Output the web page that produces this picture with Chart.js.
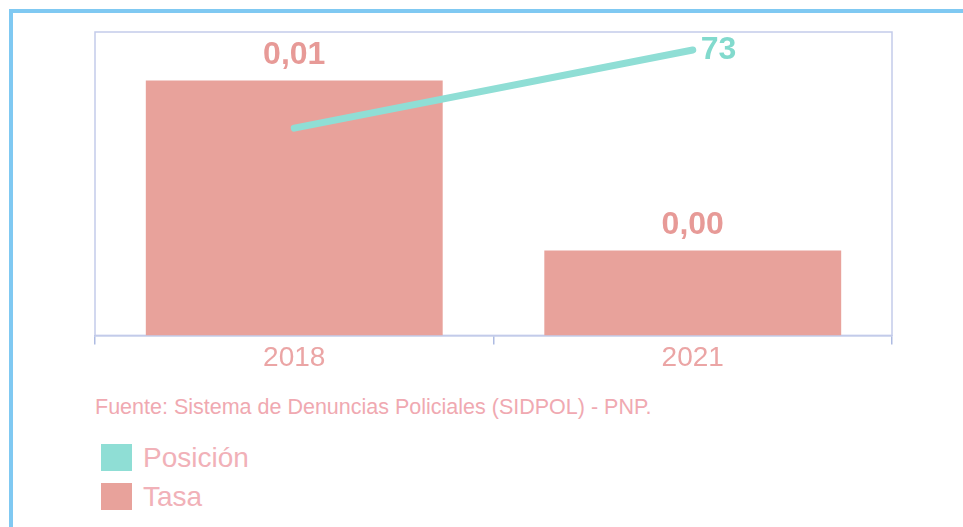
<!DOCTYPE html>
<html>
<head>
<meta charset="utf-8">
<script src="https://cdn.jsdelivr.net/npm/chart.js@4/dist/chart.umd.min.js"></script>
<style>
  body { margin: 0; background: #fff; font-family: 'Liberation Sans', Arial, sans-serif; }
  #wrap { position: relative; width: 963px; height: 527px; overflow: hidden; background: #fff; }
  #marco { position: absolute; left: 9px; top: 9px; width: 1000px; height: 600px;
           border-top: 4px solid #80c9f2; border-left: 4px solid #80c9f2; }
  #grafico { position: absolute; left: 0; top: 0; }
  #fuente { position: absolute; left: 95px; top: 395px; font-size: 21.5px; color: #f0a9b1; white-space: nowrap; }
  #leyenda { position: absolute; left: 101px; top: 438px; }
  .item { display: flex; align-items: center; height: 39px; }
  .caja { width: 31px; height: 27px; margin-right: 11px; }
  .texto { font-size: 28px; color: #f1b1b8; }
</style>
</head>
<body>
<div id="wrap">
  <div id="marco"></div>
  <canvas id="grafico" width="963" height="380"></canvas>
  <div id="fuente">Fuente: Sistema de Denuncias Policiales (SIDPOL) - PNP.</div>
  <div id="leyenda"></div>
</div>
<script>
// Datos
const anios = ['2018', '2021'];
const tasa = [0.0126, 0.0042];
const posicion = [53, 73];
const mostrarEtiquetaPosicion = [false, true];

const colorTasa = '#e8a29b';
const colorPosicion = '#8fded5';

// Marco del área de trazado
const marcoPlugin = {
  id: 'marco',
  beforeDatasetsDraw(chart) {
    const { ctx, chartArea: a } = chart;
    ctx.save();
    ctx.strokeStyle = '#c3cbea';
    ctx.lineWidth = 1.5;
    ctx.strokeRect(a.left, a.top, a.right - a.left, a.bottom - a.top);
    ctx.restore();
  }
};

// Etiquetas de valores
const etiquetasPlugin = {
  id: 'etiquetas',
  afterDatasetsDraw(chart) {
    const ctx = chart.ctx;
    ctx.save();
    ctx.font = 'bold 32px "Liberation Sans", Arial, sans-serif';
    chart.getDatasetMeta(1).data.forEach((bar, i) => {
      ctx.fillStyle = '#e79a97';
      ctx.textAlign = 'center';
      ctx.textBaseline = 'bottom';
      ctx.fillText(tasa[i].toFixed(2).replace('.', ','), bar.x, bar.y - 9);
    });
    chart.getDatasetMeta(0).data.forEach((pt, i) => {
      if (!mostrarEtiquetaPosicion[i]) return;
      ctx.fillStyle = '#82dacd';
      ctx.textAlign = 'left';
      ctx.textBaseline = 'middle';
      ctx.fillText(String(posicion[i]), pt.x + 8, pt.y);
    });
    ctx.restore();
  }
};

const chart = new Chart(document.getElementById('grafico'), {
  data: {
    labels: anios,
    datasets: [
      { type: 'line', label: 'Posición', data: posicion, yAxisID: 'y1', order: 0,
        borderColor: colorPosicion, backgroundColor: colorPosicion, borderWidth: 7,
        pointRadius: 0, borderCapStyle: 'round', tension: 0 },
      { type: 'bar', label: 'Tasa', data: tasa, yAxisID: 'y', order: 1,
        backgroundColor: colorTasa, barPercentage: 0.745, categoryPercentage: 1 }
    ]
  },
  options: {
    responsive: false,
    animation: false,
    layout: { padding: { left: 95, right: 71, top: 32, bottom: 8 } },
    plugins: { legend: { display: false }, tooltip: { enabled: false } },
    scales: {
      x: {
        offset: true,
        border: { color: '#aebbe2', width: 1.5 },
        grid: { offset: true, drawOnChartArea: false, tickLength: 9, color: '#aebbe2', lineWidth: 1.5 },
        ticks: { color: '#eba5a5', padding: -3, font: { size: 28, family: '"Liberation Sans", Arial, sans-serif' } }
      },
      y: { display: false, min: 0, max: 0.015 },
      y1: { display: false, min: 0, max: 77.6 }
    }
  },
  plugins: [marcoPlugin, etiquetasPlugin]
});

// Leyenda en HTML
const leyenda = document.getElementById('leyenda');
chart.data.datasets.forEach(ds => {
  const item = document.createElement('div');
  item.className = 'item';
  item.innerHTML = `<div class="caja" style="background:${ds.type === 'line' ? colorPosicion : colorTasa}"></div><span class="texto">${ds.label}</span>`;
  leyenda.appendChild(item);
});
</script>
</body>
</html>
